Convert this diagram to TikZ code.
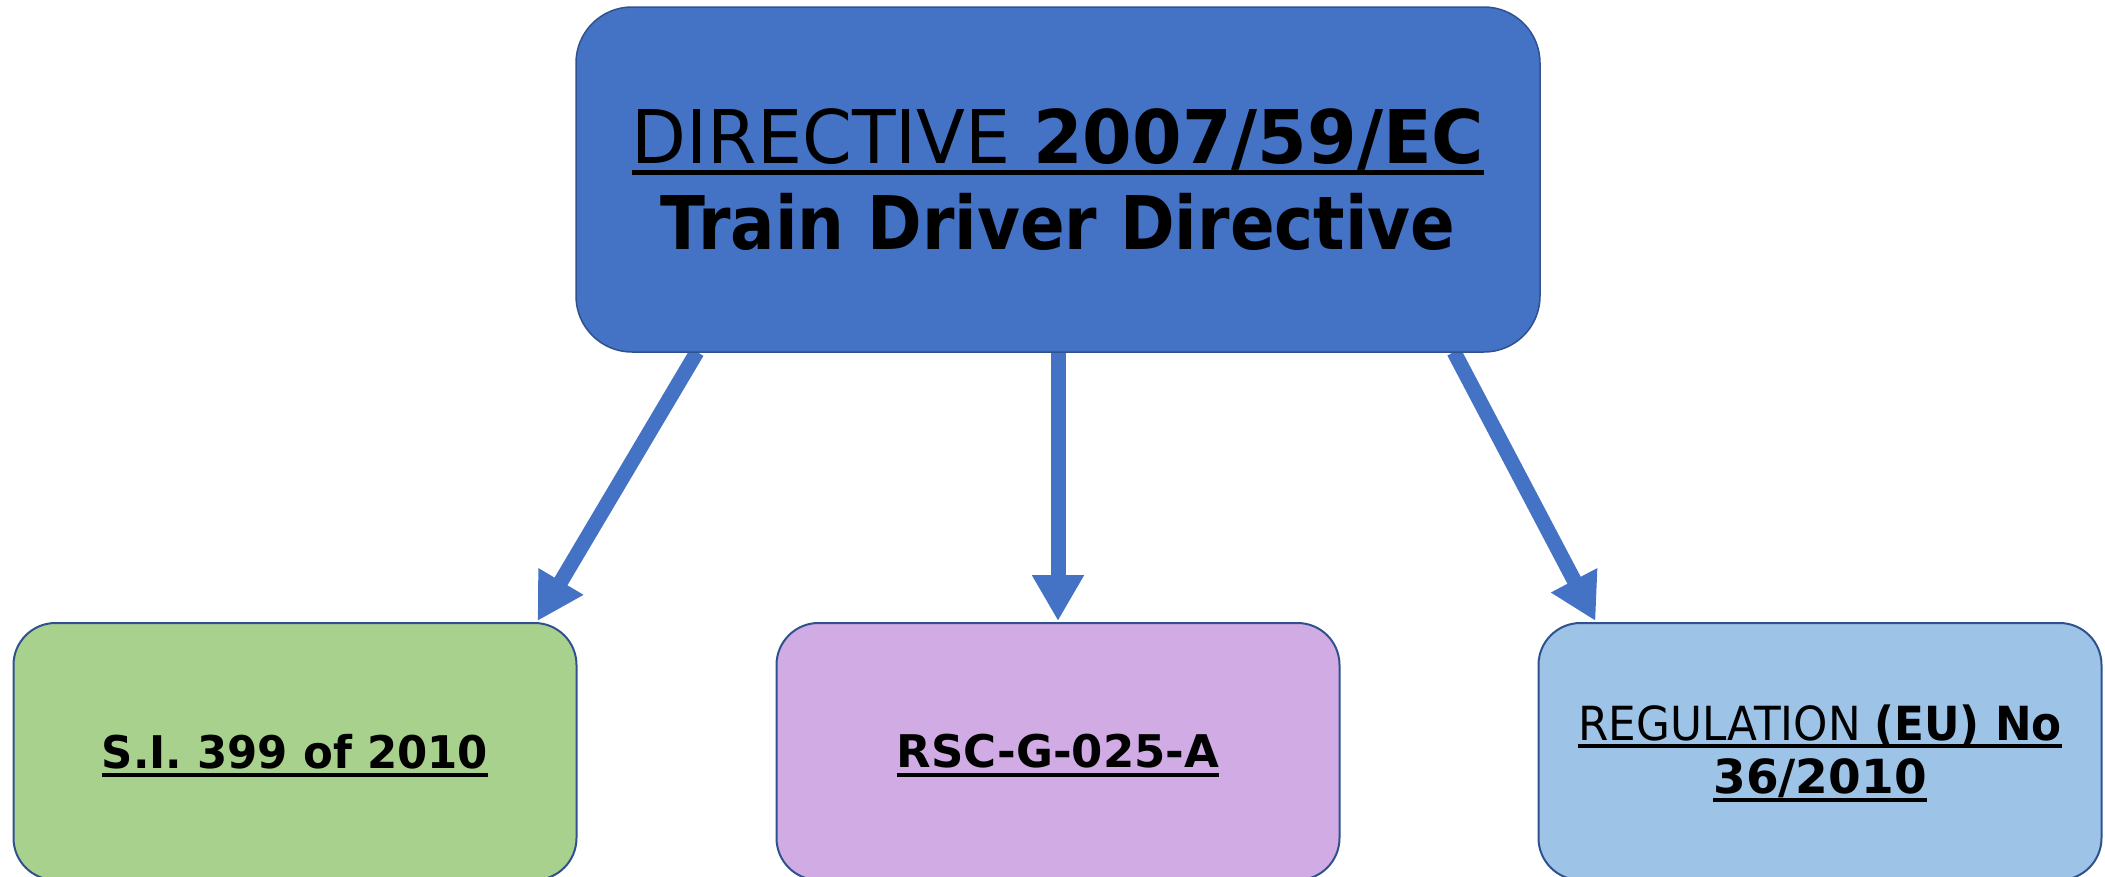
\documentclass[tikz,border=0pt]{standalone}
\usepackage{fontspec}
\setmainfont{DejaVu Sans}
\usetikzlibrary{arrows.meta,backgrounds}
\definecolor{topblue}{HTML}{4472C4}
\definecolor{edgeblue}{HTML}{2F528F}
\definecolor{boxgreen}{HTML}{A9D18E}
\definecolor{boxlilac}{HTML}{D1ABE4}
\definecolor{boxsky}{HTML}{9DC3E6}
\newcommand\ulbox[3]{\setbox0\hbox{#3}\rlap{\smash{\rule[-#1]{\wd0}{#2}}}\box0}
\tikzset{
  topbox/.style={draw=edgeblue, line width=1.5pt, fill=topblue, rounded corners=56pt,
    minimum width=964pt, minimum height=345pt, inner sep=0pt, outer sep=0pt,
    align=center, font=\fontsize{74}{86}\selectfont},
  lowbox/.style={draw=edgeblue, line width=2pt, rounded corners=42pt,
    minimum width=563pt, minimum height=257pt, inner sep=0pt, outer sep=0pt,
    align=center, font=\fontsize{45}{53}\selectfont},
  arrowline/.style={draw=topblue, line width=15pt,
    -{Triangle[length=46pt,width=49pt]}}
}
\begin{document}
\begin{tikzpicture}[x=1pt,y=-1pt]
\useasboundingbox (0,0) rectangle (2105,876);
\clip (0,0) rectangle (2105,876);
\node[topbox] (top) at (1058,179.5)
  {\scalebox{0.964}[1]{\ulbox{11.5pt}{5pt}{DIRECTIVE \bfseries 2007/59/EC}}\\
   \scalebox{0.89}[1]{\bfseries Train Driver Directive}};
\node[lowbox, fill=boxgreen] (lbox) at (295,751.5)
  {\scalebox{0.965}[1]{\ulbox{9pt}{4pt}{\bfseries S.I. 399 of 2010}}};
\node[lowbox, fill=boxlilac] (mbox) at (1058,751.5)
  {\ulbox{9pt}{4pt}{\bfseries RSC-G-025-A}};
\node[lowbox, fill=boxsky, font=\fontsize{47}{53}\selectfont] (rbox) at (1820,751.5)
  {\scalebox{0.93}[1]{\ulbox{7pt}{4pt}{REGULATION \bfseries (EU) No}}\\
   \ulbox{8pt}{4pt}{\bfseries 36/2010}};
\begin{scope}[on background layer]
\draw[arrowline] ([xshift=121pt]top.south west) -- ([xshift=-39pt,yshift=2pt]lbox.north east);
\draw[arrowline] (top.south) -- ([yshift=2pt]mbox.north);
\draw[arrowline] ([xshift=-86pt]top.south east) -- ([xshift=57pt,yshift=2pt]rbox.north west);
\end{scope}
\end{tikzpicture}
\end{document}
